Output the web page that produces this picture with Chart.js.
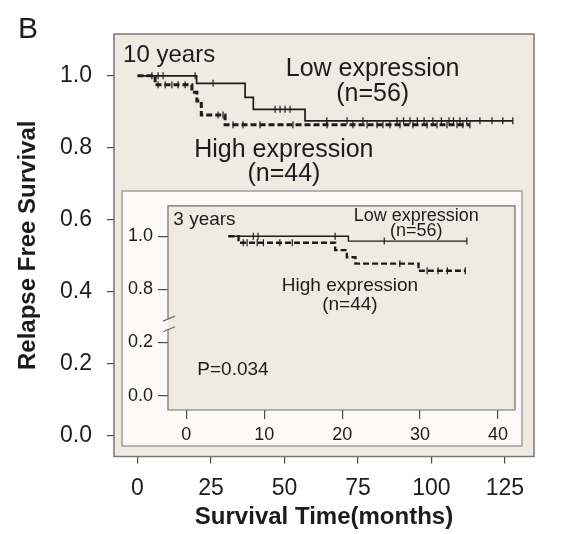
<!DOCTYPE html>
<html>
<head>
<meta charset="utf-8">
<script src="https://cdn.jsdelivr.net/npm/chart.js@4.4.1/dist/chart.umd.min.js"></script>
<style>
  html, body { margin: 0; padding: 0; background: #fff; }
  #wrap { position: relative; width: 573px; height: 534px; }
  #mainChart { position: absolute; left: 0; top: 0; }
  #insetChart { position: absolute; left: 121px; top: 190px; }
</style>
</head>
<body>
<div id="wrap">
  <canvas id="mainChart" width="573" height="534"></canvas>
  <canvas id="insetChart" width="402" height="257"></canvas>
</div>
<script>
// 10 year curves: event times (months) and survival after each step
const lowTimes = [0, 20.1, 36.6, 39.4, 57.0, 127.7];
const lowSurv = [1.0, 0.979, 0.940, 0.907, 0.875, 0.875];
const highTimes = [0, 6.0, 18.5, 20.2, 21.7, 29.8, 113.1];
const highSurv = [1.0, 0.975, 0.954, 0.930, 0.891, 0.864, 0.864];
// censored patients (months)
const lowCensored = [4.9, 7.0, 8.7, 19.6, 25.7, 46.8, 48.5, 50.2, 51.9, 64.4, 71.3, 76.7, 88.3, 90.5, 92.7, 95.2, 97.5,
    100.5, 103.4, 106.0, 107.5, 109.7, 112.0, 116.5, 120.6, 124.3, 127.7];
const highCensored = [7.0, 9.4, 11.7, 13.8, 16.2, 27.4, 29.1, 32.5, 35.9, 41.7, 52.9, 64.5, 73.3, 78.1, 81.5, 83.5, 85.9,
    89.3, 93.7, 98.5, 101.9, 105.3, 108.7, 110.7, 113.1];
const xTicks = [0, 25, 50, 75, 100, 125];
const yTicks = [0.0, 0.2, 0.4, 0.6, 0.8, 1.0];

// 3 year inset
const lowTimes3y = [5.4, 20.8, 36.0];
const lowSurv3y = [1.0, 0.982, 0.982];
const highTimes3y = [5.4, 6.7, 19.1, 20.6, 21.7, 29.8, 35.8];
const highSurv3y = [1.0, 0.976, 0.948, 0.921, 0.897, 0.870, 0.870];
const lowCensored3y = [8.6, 9.2, 19.1, 25.4, 36.0];
const highCensored3y = [7.3, 7.8, 9.1, 9.9, 12.0, 13.6, 27.4, 30.9, 32.3, 33.5, 35.8];
const insetXTicks = [0, 10, 20, 30, 40];
const insetYTicks = [0.0, 0.2, 0.8, 1.0];

const FONT = '"Liberation Sans", Arial, sans-serif';
const INK = '#1c1c1c';
const PANEL = '#efebe2';

// broken y axis of the inset: 0.8-1.0 is drawn right above 0.0-0.2
const brk = v => v >= 0.5 ? v - 0.4 : v;
const unbrk = v => v >= 0.3 ? v + 0.4 : v;

function stepPoints(times, surv, f) {
    f = f || (v => v);
    return times.map((t, i) => ({ x: t, y: f(surv[i]) }));
}

function survAt(times, surv, t) {
    let s = surv[0];
    for (let i = 0; i < times.length; i++) {
        if (times[i] <= t) s = surv[i];
    }
    return s;
}

function censorPoints(list, times, surv, f) {
    f = f || (v => v);
    return list.map(t => ({ x: t, y: f(survAt(times, surv, t)) }));
}

function curve(points, dashed, width) {
    return {
        type: 'line', data: points, stepped: 'before',
        borderColor: INK, borderWidth: width, borderDash: dashed ? [6, 3] : [],
        pointRadius: 0, fill: false
    };
}

function marks(points, r) {
    return {
        type: 'scatter', data: points, showLine: false,
        pointStyle: 'line', rotation: 90, pointRadius: r,
        pointBorderColor: INK, pointBorderWidth: 1.2, pointBackgroundColor: INK
    };
}

function drawNotes(chart, notes) {
    const { ctx, scales: { x, y } } = chart;
    ctx.save();
    ctx.fillStyle = INK;
    ctx.textBaseline = 'alphabetic';
    notes.forEach(n => {
        ctx.font = n.size + 'px ' + FONT;
        ctx.textAlign = n.align || 'center';
        ctx.fillText(n.text, x.getPixelForValue(n.x), y.getPixelForValue(n.y));
    });
    ctx.restore();
}

// text placed in axis units
const mainNotes = [
    { text: '10 years', x: -4.9, y: 1.037, size: 24, align: 'left' },
    { text: 'Low expression', x: 80.0, y: 0.999, size: 25 },
    { text: '(n=56)', x: 80.0, y: 0.931, size: 25 },
    { text: 'High expression', x: 49.8, y: 0.774, size: 25 },
    { text: '(n=44)', x: 49.8, y: 0.709, size: 25 }
];
const insetNotes = [
    { text: '3 years', x: -1.67, y: 0.641, size: 19, align: 'left' },
    { text: 'Low expression', x: 29.5, y: 0.656, size: 18 },
    { text: '(n=56)', x: 29.5, y: 0.603, size: 18 },
    { text: 'High expression', x: 21.0, y: 0.393, size: 19 },
    { text: '(n=44)', x: 21.0, y: 0.324, size: 19 },
    { text: 'P=0.034', x: 1.41, y: 0.079, size: 19, align: 'left' }
];

const mainPlugin = {
    id: 'mainBox',
    beforeDraw(chart) {
        const { ctx, chartArea: a } = chart;
        ctx.save();
        ctx.fillStyle = PANEL;
        ctx.fillRect(a.left, a.top, a.right - a.left, a.bottom - a.top);
        ctx.restore();
    },
    afterDraw(chart) {
        const { ctx, chartArea: a } = chart;
        ctx.save();
        ctx.strokeStyle = '#777';
        ctx.lineWidth = 1.5;
        ctx.strokeRect(a.left, a.top, a.right - a.left, a.bottom - a.top);
        ctx.fillStyle = INK;
        ctx.font = '30px ' + FONT;
        ctx.textAlign = 'left';
        ctx.fillText('B', 18, 38);
        ctx.restore();
        drawNotes(chart, mainNotes);
    }
};

const insetPlugin = {
    id: 'insetBox',
    beforeDraw(chart) {
        const { ctx, chartArea: a, width, height } = chart;
        ctx.save();
        ctx.fillStyle = '#fbfaf8';
        ctx.fillRect(0, 0, width, height);
        ctx.strokeStyle = '#9c9c9c';
        ctx.lineWidth = 1.5;
        ctx.strokeRect(1, 1, width - 2, height - 2);
        ctx.fillStyle = PANEL;
        ctx.fillRect(a.left, a.top, a.right - a.left, a.bottom - a.top);
        ctx.restore();
    },
    afterDraw(chart) {
        const { ctx, chartArea: a, scales: { y } } = chart;
        const upper = y.getPixelForValue(0.29);
        const lower = y.getPixelForValue(0.25);
        ctx.save();
        ctx.strokeStyle = '#6f6f6f';
        ctx.lineWidth = 1.2;
        ctx.beginPath();
        ctx.moveTo(a.left, upper);
        ctx.lineTo(a.left, a.top);
        ctx.lineTo(a.right, a.top);
        ctx.lineTo(a.right, a.bottom);
        ctx.lineTo(a.left, a.bottom);
        ctx.lineTo(a.left, lower);
        ctx.stroke();
        // break marks
        ctx.beginPath();
        ctx.moveTo(a.left - 5, upper + 2.5);
        ctx.lineTo(a.left + 7, upper - 2.5);
        ctx.moveTo(a.left - 5, lower + 2.5);
        ctx.lineTo(a.left + 7, lower - 2.5);
        ctx.stroke();
        ctx.restore();
        drawNotes(chart, insetNotes);
    }
};

const tickGrid = len => ({ drawOnChartArea: false, drawTicks: true, tickLength: len, color: '#4a4a4a', lineWidth: 1.2 });

new Chart(document.getElementById('mainChart').getContext('2d'), {
    type: 'line',
    data: {
        datasets: [
            curve(stepPoints(lowTimes, lowSurv), false, 1.7),
            curve(stepPoints(highTimes, highSurv), true, 3),
            marks(censorPoints(lowCensored, lowTimes, lowSurv), 3.5),
            marks(censorPoints(highCensored, highTimes, highSurv), 3.5)
        ]
    },
    options: {
        responsive: false,
        animation: false,
        layout: { padding: { top: 34, right: 39, left: 0, bottom: 0 } },
        plugins: { legend: { display: false }, tooltip: { enabled: false } },
        scales: {
            x: {
                type: 'linear', min: -8.0, max: 134.9,
                afterBuildTicks: s => { s.ticks = xTicks.map(v => ({ value: v })); },
                afterFit: s => { s.height = 77.5; },
                grid: tickGrid(7),
                border: { display: false },
                ticks: { color: INK, padding: 11, maxRotation: 0, font: { family: FONT, size: 23 } },
                title: {
                    display: true, text: 'Survival Time(months)', color: INK,
                    font: { family: FONT, size: 24, weight: 'bold' }, padding: { top: 0, bottom: 2 }
                }
            },
            y: {
                type: 'linear', min: -0.057, max: 1.116,
                afterBuildTicks: s => { s.ticks = yTicks.map(v => ({ value: v })); },
                afterFit: s => { s.width = 114; },
                grid: tickGrid(7),
                border: { display: false },
                ticks: { color: INK, padding: 15, font: { family: FONT, size: 23 }, callback: v => v.toFixed(1) },
                title: {
                    display: true, text: 'Relapse Free Survival', color: INK,
                    font: { family: FONT, size: 24, weight: 'bold' }, padding: { top: 14, bottom: 0 }
                }
            }
        }
    },
    plugins: [mainPlugin]
});

new Chart(document.getElementById('insetChart').getContext('2d'), {
    type: 'line',
    data: {
        datasets: [
            curve(stepPoints(lowTimes3y, lowSurv3y, brk), false, 1.4),
            curve(stepPoints(highTimes3y, highSurv3y, brk), true, 2.4),
            marks(censorPoints(lowCensored3y, lowTimes3y, lowSurv3y, brk), 3.5),
            marks(censorPoints(highCensored3y, highTimes3y, highSurv3y, brk), 3.5)
        ]
    },
    options: {
        responsive: false,
        animation: false,
        layout: { padding: { top: 8, right: 8, left: 0, bottom: 0 } },
        plugins: { legend: { display: false }, tooltip: { enabled: false } },
        scales: {
            x: {
                type: 'linear', min: -2.35, max: 42.18,
                afterBuildTicks: s => { s.ticks = insetXTicks.map(v => ({ value: v })); },
                afterFit: s => { s.height = 37; },
                grid: tickGrid(9),
                border: { display: false },
                ticks: { color: INK, padding: 5, maxRotation: 0, font: { family: FONT, size: 18 } }
            },
            y: {
                type: 'linear', min: -0.0545, max: 0.715,
                afterBuildTicks: s => { s.ticks = insetYTicks.map(v => ({ value: brk(v) })); },
                afterFit: s => { s.width = 47; },
                grid: tickGrid(10),
                border: { display: false },
                ticks: { color: INK, padding: 5, font: { family: FONT, size: 18 }, callback: v => unbrk(v).toFixed(1) }
            }
        }
    },
    plugins: [insetPlugin]
});
</script>
</body>
</html>
